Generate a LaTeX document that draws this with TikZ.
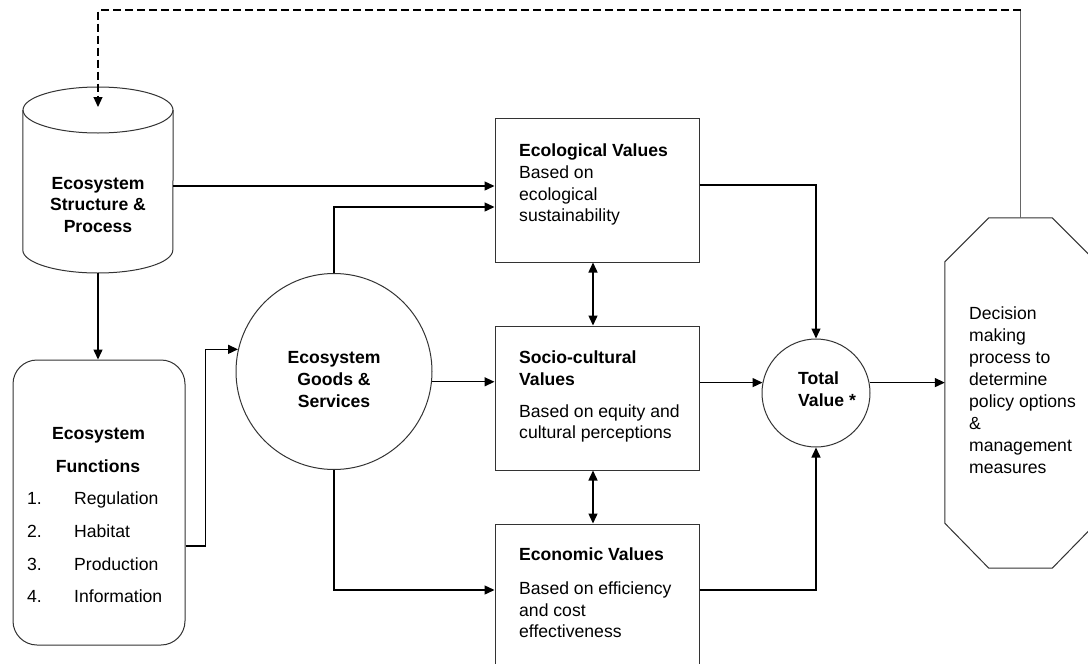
\documentclass[tikz,border=0pt]{standalone}
\usepackage{fontspec}
\setmainfont{Liberation Sans}
\usetikzlibrary{arrows.meta,calc}
\begin{document}
\begin{tikzpicture}[x=1pt,y=-1pt,
  shp/.style={draw=black!80, line width=1pt, fill=white},
  conn/.style={draw=black, line width=1.4pt, -{Triangle[length=10pt,width=9pt]}},
  dconn/.style={draw=black, line width=1.4pt, {Triangle[length=10pt,width=9pt]}-{Triangle[length=10pt,width=9pt]}},
  fbline/.style={draw=black!60, line width=1pt},
  txt/.style={inner sep=0pt, font=\fontsize{17.6}{21.7}\selectfont, align=left},
  bt/.style={txt, font=\fontsize{17.6}{21.7}\selectfont\bfseries},
  valbox/.style={shp, minimum width=204pt, inner sep=0pt},
]
\useasboundingbox (0,0) rectangle (1088,664);
\clip (0,0) rectangle (1088,664);
\fill[white] (0,0) rectangle (1088,664);

% value boxes
\node[valbox, minimum height=144pt] (eco) at (597,190) {};
\node[valbox, minimum height=144pt] (socio) at (597,398) {};
\node[valbox, minimum height=180pt] (econ) at (597,614) {};
\node[txt, anchor=north west] (ecotext) at (519,143.7)
  {\textbf{Ecological Values}\\Based on\\ecological\\sustainability};
\node[txt, anchor=north west] (sociotext) at (519,350.7)
  {\textbf{Socio-cultural}\\\textbf{Values}\\[10pt]Based on equity and\\cultural perceptions};
\node[txt, anchor=north west] (econtext) at (519,547.7)
  {\textbf{Economic Values}\\[12pt]Based on efficiency\\and cost\\effectiveness};

% circles
\node[shp, circle, minimum size=196pt, inner sep=0pt] (goods) at (334,371.5) {};
\node[bt, align=center] (goodstext) at (334,379.5) {Ecosystem\\Goods \&\\Services};
\node[shp, circle, minimum size=108pt, inner sep=0pt] (total) at (816,393) {};
\node[bt, anchor=north west] (totaltext) at (798,371.7) {Total\\Value *};

% functions box
\node[shp, rounded corners=24pt, minimum width=172pt, minimum height=285pt, inner sep=0pt] (func) at (99,502.5) {};
\node[bt, anchor=base] (fh1) at (98.5,439.3) {Ecosystem};
\node[bt, anchor=base] (fh2) at (98,472.3) {Functions};
\foreach \n/\t/\yy in {1/Regulation/498, 2/Habitat/531, 3/Production/564, 4/Information/596}{
  \node[txt, anchor=base west] (fn\n) at (27,\yy+6.3) {\n.};
  \node[txt, anchor=base west] (fl\n) at (74,\yy+6.3) {\t};
}

% cylinder
\node[bt, align=center, minimum width=150pt, minimum height=136pt] (cyl) at (98,205) {Ecosystem\\Structure \&\\Process};
\draw[shp, fill=none] (cyl.west |- 0,110) -- (cyl.west |- 0,250)
  arc[start angle=180, end angle=360, x radius=75pt, y radius=23pt] -- (cyl.east |- 0,110);
\draw[shp, fill=none] (98,110) ellipse [x radius=75pt, y radius=23pt];

% octagon
\node[minimum width=151pt, minimum height=350pt, inner sep=0pt] (oct) at (1020.5,393) {};
\draw[shp, fill=none] ([xshift=44pt]oct.north west) -- ([xshift=-44pt]oct.north east)
  -- ([yshift=-44pt]oct.north east) -- ([yshift=45pt]oct.south east)
  -- ([xshift=-44pt]oct.south east) -- ([xshift=44pt]oct.south west)
  -- ([yshift=45pt]oct.south west) -- ([yshift=-44pt]oct.north west) -- cycle;
\node[txt, font=\fontsize{17.6}{22}\selectfont, anchor=north west] (octtext) at (969,306.7)
  {Decision\\making\\process to\\determine\\policy options\\\&\\management\\measures};

% connectors
\draw[conn] (cyl.south) -- (cyl.south |- func.north);
\draw[conn] (cyl.east |- 0,186) -- (eco.west |- 0,186);
\draw[conn] (func.east |- 0,546) -- ++(20,0) |- (goods.167);
\draw[conn] (goods.north) |- (eco.west |- 0,207);
\draw[conn] (goods.-6) -- (socio.west |- goods.-6);
\draw[conn] (goods.south) |- (econ.west |- 0,590);
\draw[dconn] ([xshift=-4pt]eco.south) -- ([xshift=-4pt]socio.north);
\draw[dconn] ([xshift=-4pt]socio.south) -- ([xshift=-4pt]econ.north);
\draw[conn] (eco.east |- 0,185) -| (total.north);
\draw[conn] (econ.east |- 0,590) -| (total.south);
\draw[conn] (socio.east |- total.169) -- (total.169);
\draw[conn] (total.11) -- (oct.west |- total.11);

% feedback loop
\coordinate (fbR) at (oct.north |- 0,10);
\coordinate (fbL) at (98,10);
\coordinate (fbEnd) at (98,107);
\draw[fbline] (oct.north) -- (fbR);
\draw[conn, line width=1.2pt, dash pattern=on 8pt off 4pt] (fbR) -- (fbL) -- (fbEnd);
\end{tikzpicture}
\end{document}
